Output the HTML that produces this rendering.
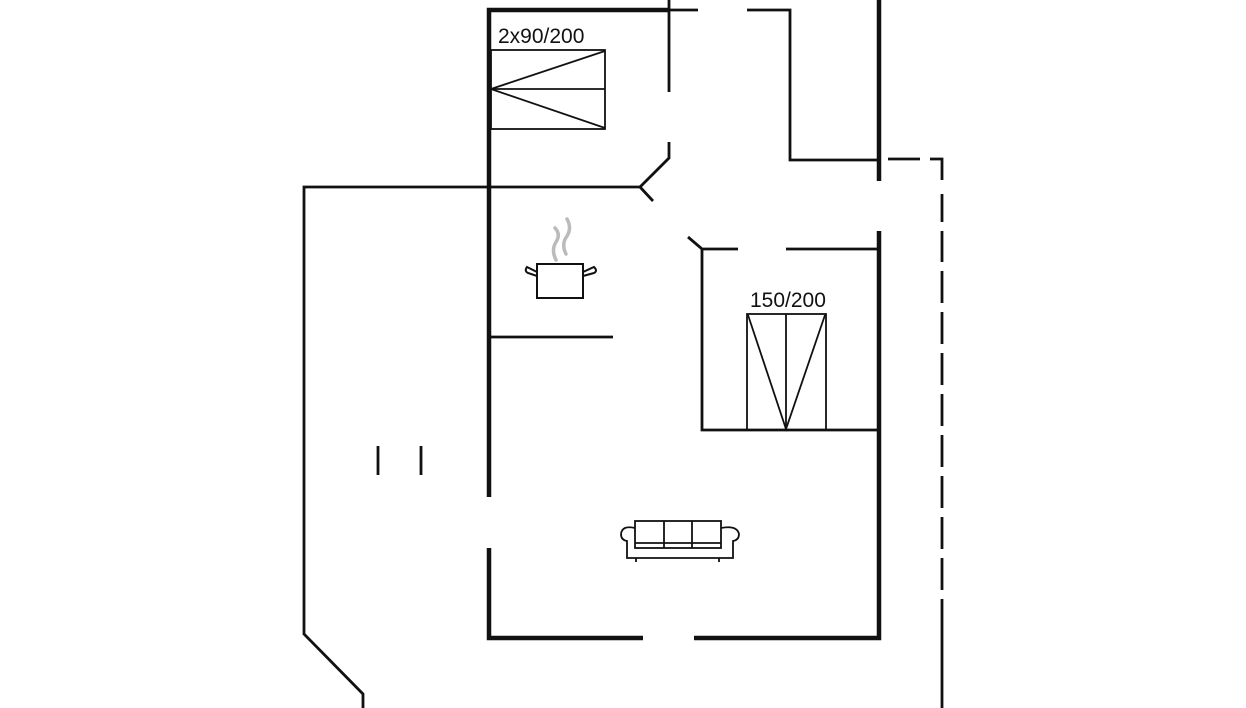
<!DOCTYPE html>
<html><head><meta charset="utf-8"><style>
html,body{margin:0;padding:0;background:#fff;width:1246px;height:708px;overflow:hidden}
svg{display:block}
text{font-family:"Liberation Sans",sans-serif;font-size:21px;fill:#111}
</style></head><body>
<svg width="1246" height="708" viewBox="0 0 1246 708" xmlns="http://www.w3.org/2000/svg">
<g fill="none" stroke="#111" stroke-linecap="butt">
<g stroke-width="4.5">
<polyline points="489,497 489,10 670,10"/>
<polyline points="489,548 489,638 643,638"/>
<polyline points="694,638 879,638 879,231"/>
<line x1="879" y1="0" x2="879" y2="181"/>
</g>
<g stroke-width="2.8">
<line x1="669" y1="0" x2="669" y2="92"/>
<polyline points="669,142 669,158 640,187"/>
<line x1="640" y1="187" x2="653" y2="201"/>
<polyline points="640,187 304,187 304,634 363,694 363,708"/>
<line x1="669" y1="10" x2="698" y2="10"/>
<polyline points="747,10 790,10 790,160 879,160"/>
<polyline points="688,237 702,249 738,249"/>
<line x1="786" y1="249" x2="879" y2="249"/>
<polyline points="702,249 702,430 879,430"/>
<line x1="489" y1="337" x2="613" y2="337"/>
<line x1="378" y1="446" x2="378" y2="475"/>
<line x1="421" y1="446" x2="421" y2="475"/>
</g>
<g stroke-width="2.8">
<line x1="888" y1="159" x2="920" y2="159"/>
<polyline points="930,159 942,159 942,180"/>
<line x1="942" y1="194" x2="942" y2="222"/>
<line x1="942" y1="231" x2="942" y2="262"/>
<line x1="942" y1="271" x2="942" y2="303"/>
<line x1="942" y1="312" x2="942" y2="344"/>
<line x1="942" y1="353" x2="942" y2="385"/>
<line x1="942" y1="394" x2="942" y2="426"/>
<line x1="942" y1="435" x2="942" y2="467"/>
<line x1="942" y1="476" x2="942" y2="508"/>
<line x1="942" y1="517" x2="942" y2="549"/>
<line x1="942" y1="558" x2="942" y2="590"/>
<line x1="942" y1="599" x2="942" y2="708"/>
</g>
<g stroke-width="1.8">
<rect x="491" y="50" width="114" height="79"/>
<line x1="491" y1="89" x2="605" y2="89"/>
<polyline points="605,51 491,89 605,128"/>
</g>
<g stroke-width="1.8">
<rect x="747" y="314" width="79" height="116"/>
<line x1="786" y1="314" x2="786" y2="430"/>
<polyline points="748,315 786,429 825,315"/>
</g>
<g stroke-width="2">
<rect x="537" y="264" width="46" height="34"/>
<path d="M537,272 L527,267 Q524,271 528,273 L537,276"/>
<path d="M583,272 L594,267 Q598,271 594,273 L583,276"/>
</g>
<g stroke="#bbb" stroke-width="3.5" stroke-linecap="round">
<path d="M556,260 Q551,250 556,242 Q561,234 555,228"/>
<path d="M566,254 Q561,244 567,236 Q572,228 567,219"/>
</g>
<g stroke-width="1.8">
<rect x="635" y="521" width="86" height="27"/>
<line x1="635" y1="543" x2="721" y2="543"/>
<line x1="664" y1="521" x2="664" y2="548"/>
<line x1="692" y1="521" x2="692" y2="548"/>
<path d="M635,528 Q622,525 621,534 Q621,540 627,541 L627,558 L733,558 L733,541 Q739,540 739,534 Q737,525 721,528"/>
<line x1="636" y1="558" x2="636" y2="562"/>
<line x1="719" y1="558" x2="719" y2="562"/>
</g>
</g>
<text x="498" y="43">2x90/200</text>
<text x="750" y="307">150/200</text>
</svg>
</body></html>
